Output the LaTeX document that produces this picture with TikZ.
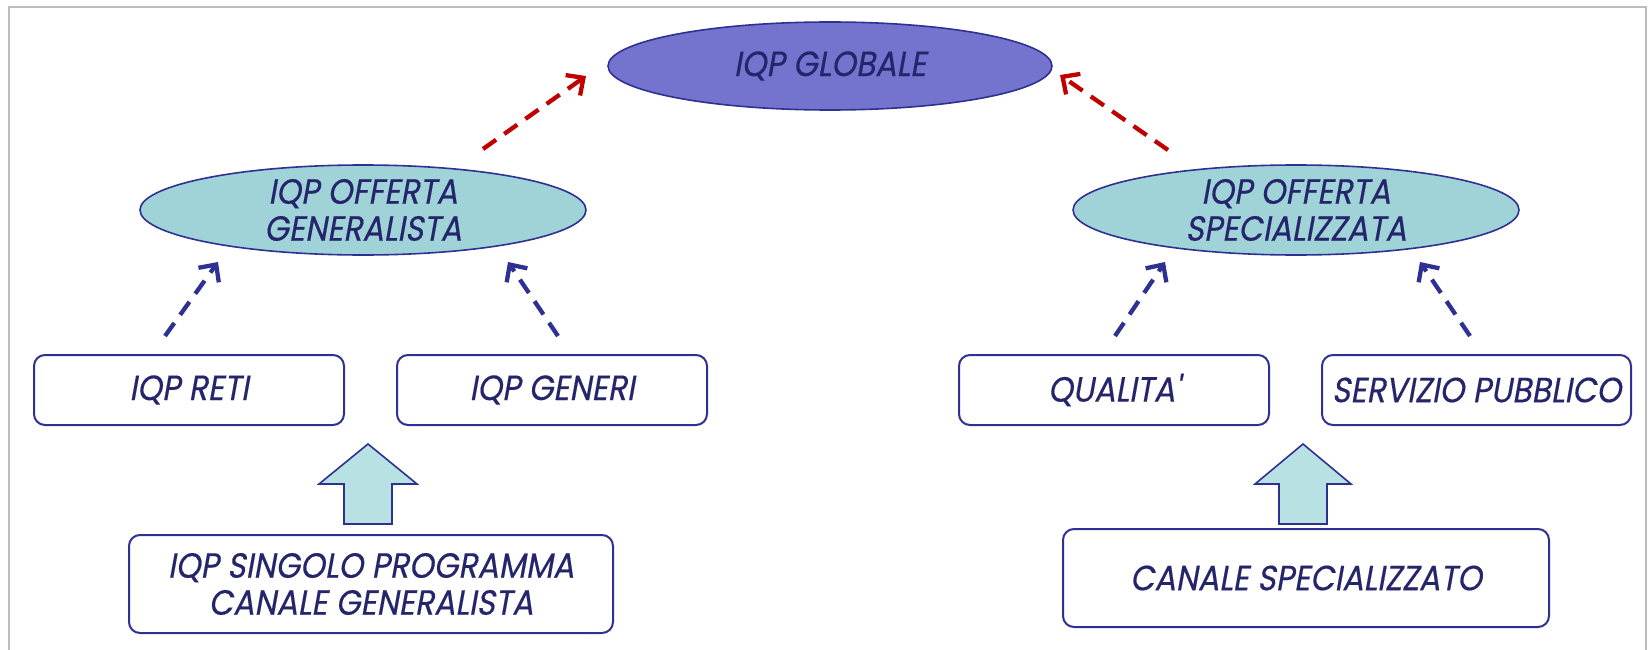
\documentclass[tikz,border=0pt]{standalone}
\usepackage{fontspec}
\usetikzlibrary{shapes.geometric,arrows.meta}
\newfontfamily\lblfont[FakeSlant=0.18,FakeStretch=0.9,FakeBold=0.4]{Poppins}
\definecolor{navy}{HTML}{25256C}
\definecolor{edge}{HTML}{2E3192}
\definecolor{globfill}{HTML}{7474CF}
\definecolor{tealfill}{HTML}{A0D3D8}
\definecolor{blockfill}{HTML}{B8E1E3}
\definecolor{redarr}{HTML}{C00000}
\definecolor{framegray}{HTML}{BDBDBD}
\tikzset{
  lbl/.style={font=\lblfont\fontsize{35}{37}\selectfont, text=navy, align=center},
  oval/.style={lbl, ellipse, draw=edge, line width=1.6pt, inner sep=0pt},
  box/.style={lbl, rectangle, rounded corners=11pt, draw=edge, line width=2pt, fill=white, inner sep=0pt},
  redlink/.style={draw=redarr, line width=4.3pt, dash pattern=on 16pt off 10pt, -{Straight Barb[length=13pt,width=25pt]}},
  bluelink/.style={draw=edge, line width=4.3pt, dash pattern=on 16pt off 10pt, -{Straight Barb[length=13pt,width=25pt]}},
  blockarrow/.style={draw=edge, line width=1.6pt, fill=blockfill}
}
\begin{document}
\begin{tikzpicture}[x=1pt,y=-1pt]
\useasboundingbox (0,0) rectangle (1649,650);
\draw[framegray, line width=2.2pt] (9,7) rectangle (1646,670);

\node[oval, fill=globfill, minimum width=444pt, minimum height=88pt] (glob) at (830,66) {IQP GLOBALE};
\node[oval, fill=tealfill, minimum width=446pt, minimum height=90pt] (gen) at (363,210) {IQP OFFERTA\\GENERALISTA};
\node[oval, fill=tealfill, minimum width=446pt, minimum height=90pt] (spec) at (1296,210) {IQP OFFERTA\\SPECIALIZZATA};

\node[box, minimum width=310pt, minimum height=70pt] (reti) at (189,390) {IQP RETI};
\node[box, minimum width=310pt, minimum height=70pt] (generi) at (552,390) {IQP GENERI};
\node[box, minimum width=310pt, minimum height=70pt] (qual) at (1114,390) {QUALITA'};
\node[box, minimum width=309pt, minimum height=70pt] (serv) at (1476.5,390) {SERVIZIO PUBBLICO};
\node[box, minimum width=484pt, minimum height=98pt] (sing) at (371,584) {IQP SINGOLO PROGRAMMA\\CANALE GENERALISTA};
\node[box, minimum width=486pt, minimum height=98pt] (canspec) at (1306,578) {CANALE SPECIALIZZATO};

% free ends of the dashed connectors
\coordinate (genT) at (483,149);
\coordinate (globL) at (586,76);
\coordinate (specT) at (1168,150);
\coordinate (globR) at (1060,75);
\coordinate (retiT) at (165,336);
\coordinate (genBL) at (218,262);
\coordinate (generiT) at (558,336);
\coordinate (genBR) at (508,262);
\coordinate (qualT) at (1115,336);
\coordinate (specBL) at (1165,262);
\coordinate (servT) at (1470,336);
\coordinate (specBR) at (1420,262);

\draw[redlink] (genT) -- (globL);
\draw[redlink] (specT) -- (globR);
\draw[bluelink] (retiT) -- (genBL);
\draw[bluelink] (generiT) -- (genBR);
\draw[bluelink] (qualT) -- (specBL);
\draw[bluelink] (servT) -- (specBR);

% block arrows
\draw[blockarrow] (344,524) -- (344,484) -- (319,484) -- (368,444) -- (417,484) -- (392,484) -- (392,524) -- cycle;
\draw[blockarrow] (1279,524) -- (1279,484) -- (1255,484) -- (1303,444) -- (1351,484) -- (1327,484) -- (1327,524) -- cycle;
\end{tikzpicture}
\end{document}
